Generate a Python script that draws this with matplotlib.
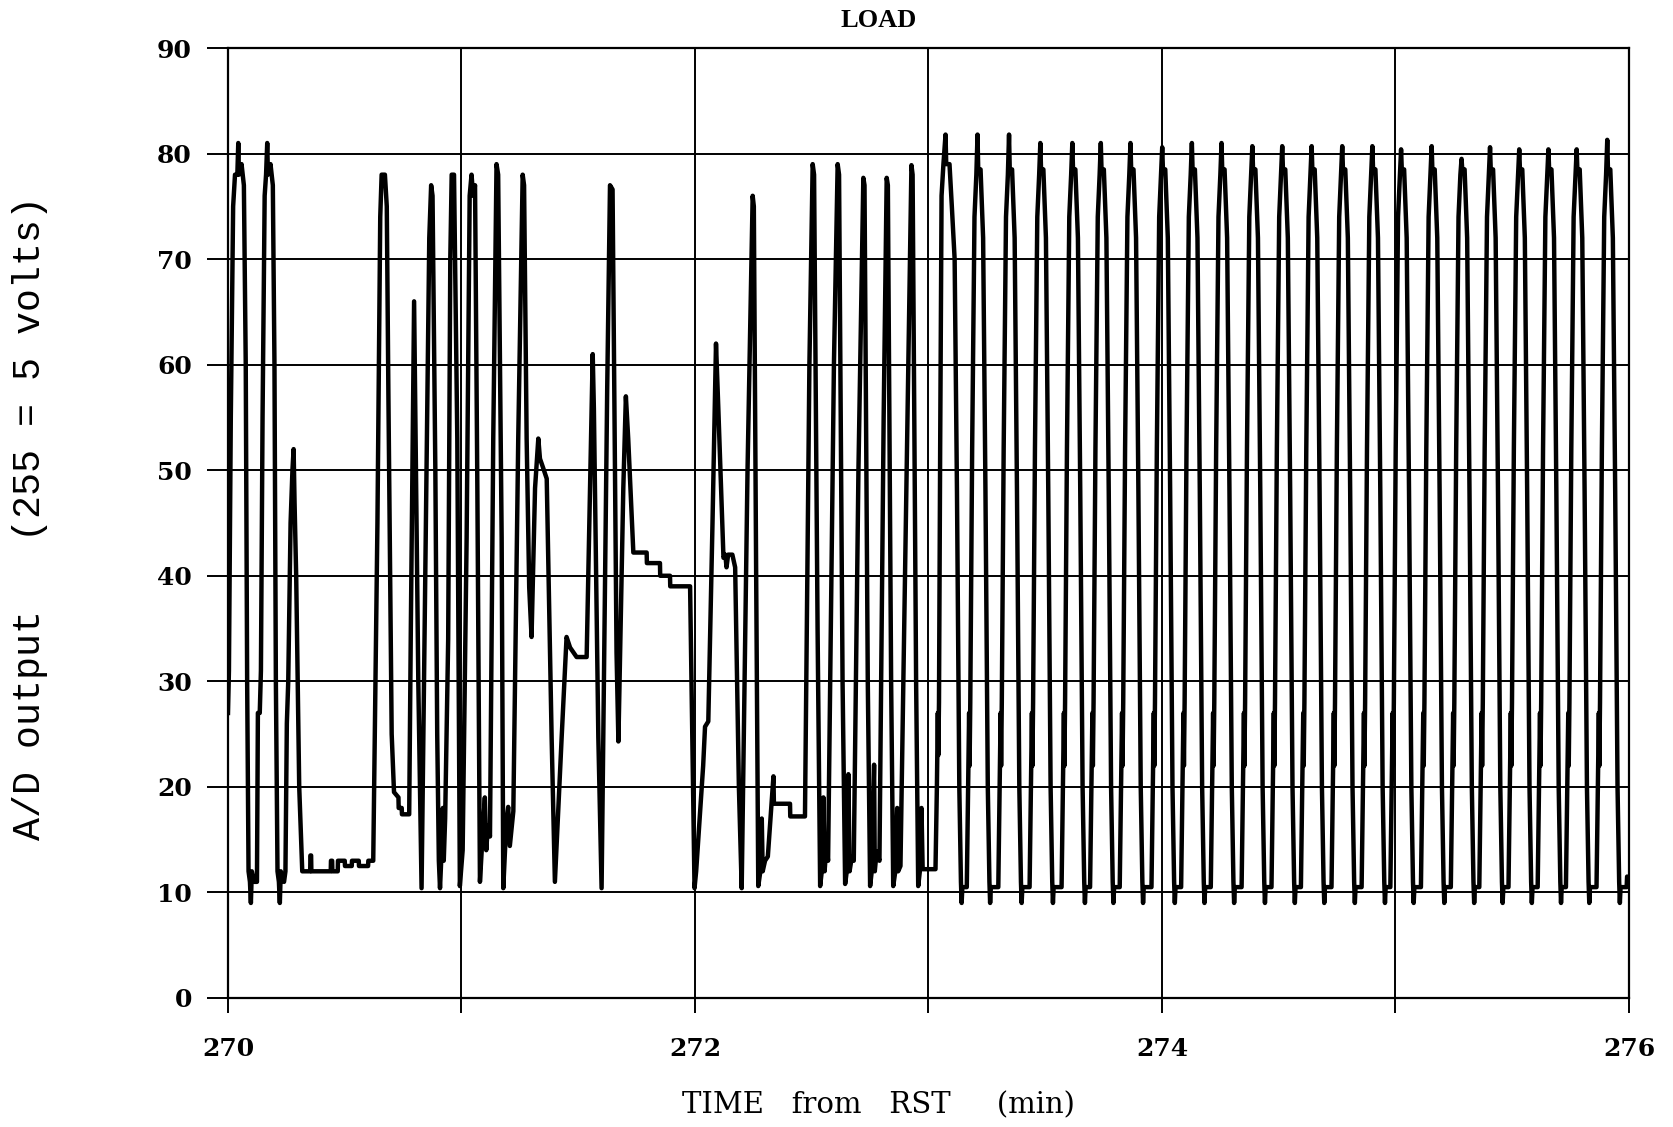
import numpy as np
import matplotlib
matplotlib.use('Agg')
import matplotlib.pyplot as plt

# A/D load trace, start-up part (irregular cycles), time in min from RST
t_settling = [
    270.000, 270.004, 270.012, 270.022, 270.030, 270.040, 270.044, 270.047, 270.058, 270.068,
    270.076, 270.082, 270.088, 270.094, 270.098, 270.102, 270.112, 270.124, 270.128, 270.136,
    270.141, 270.148, 270.157, 270.163, 270.168, 270.171, 270.182, 270.192, 270.199, 270.205,
    270.212, 270.218, 270.222, 270.226, 270.240, 270.246, 270.252, 270.258, 270.268, 270.276,
    270.281, 270.285, 270.292, 270.305, 270.318, 270.352, 270.353, 270.356, 270.357, 270.440,
    270.441, 270.446, 270.447, 270.470, 270.471, 270.500, 270.501, 270.530, 270.531, 270.560,
    270.561, 270.600, 270.601, 270.622, 270.640, 270.652, 270.658, 270.672, 270.680, 270.687,
    270.701, 270.711, 270.730, 270.731, 270.744, 270.745, 270.776, 270.783, 270.797, 270.800,
    270.815, 270.829, 270.845, 270.862, 270.870, 270.876, 270.888, 270.896, 270.903, 270.908,
    270.915, 270.920, 270.924, 270.930, 270.943, 270.952, 270.958, 270.968, 270.982, 270.993,
    271.005, 271.022, 271.035, 271.043, 271.050, 271.058, 271.068, 271.079, 271.090, 271.100,
    271.106, 271.113, 271.122, 271.136, 271.150, 271.157, 271.172, 271.179, 271.192, 271.200,
    271.207, 271.222, 271.243, 271.262, 271.268, 271.279, 271.290, 271.300, 271.315, 271.329,
    271.336, 271.350, 271.365, 271.386, 271.400, 271.429, 271.450, 271.465, 271.493, 271.536,
    271.562, 271.567, 271.586, 271.600, 271.624, 271.636, 271.647, 271.664, 271.672, 271.693,
    271.704, 271.714, 271.736, 271.793, 271.794, 271.850, 271.851, 271.893, 271.894, 271.979,
    271.998, 272.005, 272.022, 272.035, 272.043, 272.057, 272.075, 272.090, 272.100, 272.122,
    272.130, 272.135, 272.142, 272.160, 272.172, 272.188, 272.200, 272.225, 272.247, 272.252,
    272.262, 272.271, 272.280, 272.286, 272.290, 272.300, 272.312, 272.336, 272.338, 272.407,
    272.408, 272.471, 272.490, 272.504, 272.510, 272.525, 272.536, 272.543, 272.550, 272.555,
    272.563, 272.570, 272.595, 272.611, 272.617, 272.632, 272.643, 272.650, 272.657, 272.662,
    272.672, 272.680, 272.700, 272.721, 272.726, 272.740, 272.750, 272.757, 272.767, 272.770,
    272.778, 272.790, 272.808, 272.821, 272.826, 272.840, 272.849, 272.858, 272.866, 272.870,
    272.880, 272.910, 272.927, 272.932, 272.947, 272.956, 272.963, 272.970, 272.975, 273.027,
]
ad_settling = [
    27, 31, 55, 75, 78, 78, 81, 78, 79, 77,
    60, 30, 12, 11, 9, 12, 11, 11, 27, 27,
    31, 55, 76, 78, 81, 78, 79, 77, 60, 30,
    12, 11, 9, 12, 11, 12, 26, 30, 45, 50,
    52, 47, 40, 20, 12, 12, 13.5, 13.5, 12, 12,
    13, 13, 12, 12, 13, 13, 12.5, 12.5, 13, 13,
    12.5, 12.5, 13, 13, 45, 74, 78, 78, 75, 57,
    25, 19.5, 19, 18, 18, 17.4, 17.4, 35, 66, 60,
    30, 10.4, 40, 72, 77, 76, 50, 25, 13, 10.4,
    14, 18, 13, 17, 34, 70, 78, 78, 53, 10.6,
    14, 43.6, 76, 78, 76, 77, 48, 11, 15.3, 19,
    14, 16.3, 15.3, 53, 79, 78, 43.6, 10.4, 16.7, 18.1,
    14.4, 17.7, 53, 78, 77, 53, 38.9, 34.2, 48.3, 53,
    51.1, 50.2, 49.2, 24.7, 11, 24.7, 34.2, 33.2, 32.3, 32.3,
    61, 55.8, 24.7, 10.4, 57.7, 77, 76.6, 32.7, 24.3, 48.3,
    57, 53, 42.2, 42.2, 41.2, 41.2, 40, 40, 39, 39,
    10.4, 12, 17.7, 22, 25.7, 26.2, 45, 62, 55.8, 41.7,
    42, 40.8, 42, 42, 40.8, 20, 10.4, 50, 76, 75,
    40, 10.6, 12, 17, 12, 13, 13.4, 21, 18.4, 18.4,
    17.2, 17.2, 60, 79, 78, 35, 10.6, 12, 19, 12,
    14.4, 13, 60, 79, 78, 30, 10.8, 12, 21.2, 12,
    13.4, 13, 50, 77.7, 77, 30, 10.6, 12, 22.1, 12,
    13.9, 13, 55, 77.7, 77, 30, 10.6, 12, 18, 12,
    12.5, 55, 78.9, 78, 30, 10.6, 12, 18, 12.2, 12.2,
]

# steady cycling from about 273 min on, one row per cycle
t_steady = [
    273.030, 273.036, 273.040, 273.042, 273.045, 273.050, 273.056, 273.064, 273.073, 273.076, 273.090, 273.100, 273.112, 273.122, 273.132, 273.139, 273.142, 273.145,
    273.164, 273.170, 273.174, 273.176, 273.179, 273.187, 273.197, 273.205, 273.210, 273.213, 273.223, 273.234, 273.244, 273.254, 273.261, 273.264, 273.267,
    273.299, 273.305, 273.309, 273.311, 273.314, 273.322, 273.332, 273.340, 273.345, 273.348, 273.358, 273.369, 273.379, 273.389, 273.396, 273.399, 273.402,
    273.433, 273.439, 273.443, 273.445, 273.448, 273.456, 273.466, 273.474, 273.479, 273.482, 273.492, 273.503, 273.513, 273.523, 273.530, 273.533, 273.536,
    273.570, 273.576, 273.580, 273.582, 273.585, 273.593, 273.603, 273.611, 273.616, 273.619, 273.629, 273.640, 273.650, 273.660, 273.667, 273.670, 273.673,
    273.692, 273.698, 273.702, 273.704, 273.707, 273.715, 273.725, 273.733, 273.738, 273.741, 273.751, 273.762, 273.772, 273.782, 273.789, 273.792, 273.795,
    273.819, 273.825, 273.829, 273.831, 273.834, 273.842, 273.852, 273.860, 273.865, 273.868, 273.878, 273.889, 273.899, 273.909, 273.916, 273.919, 273.922,
    273.955, 273.961, 273.965, 273.967, 273.970, 273.978, 273.988, 273.996, 274.001, 274.004, 274.014, 274.025, 274.035, 274.045, 274.052, 274.055, 274.058,
    274.082, 274.088, 274.092, 274.094, 274.097, 274.105, 274.115, 274.123, 274.128, 274.131, 274.141, 274.152, 274.162, 274.172, 274.179, 274.182, 274.185,
    274.209, 274.215, 274.219, 274.221, 274.224, 274.232, 274.242, 274.250, 274.255, 274.258, 274.268, 274.279, 274.289, 274.299, 274.306, 274.309, 274.312,
    274.341, 274.347, 274.351, 274.353, 274.356, 274.364, 274.374, 274.382, 274.387, 274.390, 274.400, 274.411, 274.421, 274.431, 274.438, 274.441, 274.444,
    274.469, 274.475, 274.479, 274.481, 274.484, 274.492, 274.502, 274.510, 274.515, 274.518, 274.528, 274.539, 274.549, 274.559, 274.566, 274.569, 274.572,
    274.595, 274.601, 274.605, 274.607, 274.610, 274.618, 274.628, 274.636, 274.641, 274.644, 274.654, 274.665, 274.675, 274.685, 274.692, 274.695, 274.698,
    274.726, 274.732, 274.736, 274.738, 274.741, 274.749, 274.759, 274.767, 274.772, 274.775, 274.785, 274.796, 274.806, 274.816, 274.823, 274.826, 274.829,
    274.855, 274.861, 274.865, 274.867, 274.870, 274.878, 274.888, 274.896, 274.901, 274.904, 274.914, 274.925, 274.935, 274.945, 274.952, 274.955, 274.958,
    274.978, 274.984, 274.988, 274.990, 274.993, 275.001, 275.011, 275.019, 275.024, 275.027, 275.037, 275.048, 275.058, 275.068, 275.075, 275.078, 275.081,
    275.109, 275.115, 275.119, 275.121, 275.124, 275.132, 275.142, 275.150, 275.155, 275.158, 275.168, 275.179, 275.189, 275.199, 275.206, 275.209, 275.212,
    275.237, 275.243, 275.247, 275.249, 275.252, 275.260, 275.270, 275.278, 275.283, 275.286, 275.296, 275.307, 275.317, 275.327, 275.334, 275.337, 275.340,
    275.359, 275.365, 275.369, 275.371, 275.374, 275.382, 275.392, 275.400, 275.405, 275.408, 275.418, 275.429, 275.439, 275.449, 275.456, 275.459, 275.462,
    275.484, 275.490, 275.494, 275.496, 275.499, 275.507, 275.517, 275.525, 275.530, 275.533, 275.543, 275.554, 275.564, 275.574, 275.581, 275.584, 275.587,
    275.609, 275.615, 275.619, 275.621, 275.624, 275.632, 275.642, 275.650, 275.655, 275.658, 275.668, 275.679, 275.689, 275.699, 275.706, 275.709, 275.712,
    275.730, 275.736, 275.740, 275.742, 275.745, 275.753, 275.763, 275.771, 275.776, 275.779, 275.789, 275.800, 275.810, 275.820, 275.827, 275.830, 275.833,
    275.861, 275.867, 275.871, 275.873, 275.876, 275.884, 275.894, 275.902, 275.907, 275.910, 275.920, 275.931, 275.941, 275.951, 275.958, 275.961, 275.964,
    275.990, 275.992, 276.000,
]
ad_steady = [
    12.2, 20, 27, 23, 28, 52, 76, 79, 81.8, 79, 79, 75, 70, 48, 20, 11, 9, 10.5,
    10.5, 20, 27, 22, 28, 52, 74, 78, 81.8, 78.5, 78.5, 72, 48, 20, 11, 9, 10.5,
    10.5, 20, 27, 22, 28, 52, 74, 78, 81.8, 78.5, 78.5, 72, 48, 20, 11, 9, 10.5,
    10.5, 20, 27, 22, 28, 52, 74, 78, 81.0, 78.5, 78.5, 72, 48, 20, 11, 9, 10.5,
    10.5, 20, 27, 22, 28, 52, 74, 78, 81.0, 78.5, 78.5, 72, 48, 20, 11, 9, 10.5,
    10.5, 20, 27, 22, 28, 52, 74, 78, 81.0, 78.5, 78.5, 72, 48, 20, 11, 9, 10.5,
    10.5, 20, 27, 22, 28, 52, 74, 78, 81.0, 78.5, 78.5, 72, 48, 20, 11, 9, 10.5,
    10.5, 20, 27, 22, 28, 52, 74, 78, 80.6, 78.5, 78.5, 72, 48, 20, 11, 9, 10.5,
    10.5, 20, 27, 22, 28, 52, 74, 78, 81.0, 78.5, 78.5, 72, 48, 20, 11, 9, 10.5,
    10.5, 20, 27, 22, 28, 52, 74, 78, 81.0, 78.5, 78.5, 72, 48, 20, 11, 9, 10.5,
    10.5, 20, 27, 22, 28, 52, 74, 78, 80.7, 78.5, 78.5, 72, 48, 20, 11, 9, 10.5,
    10.5, 20, 27, 22, 28, 52, 74, 78, 80.7, 78.5, 78.5, 72, 48, 20, 11, 9, 10.5,
    10.5, 20, 27, 22, 28, 52, 74, 78, 80.7, 78.5, 78.5, 72, 48, 20, 11, 9, 10.5,
    10.5, 20, 27, 22, 28, 52, 74, 78, 80.7, 78.5, 78.5, 72, 48, 20, 11, 9, 10.5,
    10.5, 20, 27, 22, 28, 52, 74, 78, 80.7, 78.5, 78.5, 72, 48, 20, 11, 9, 10.5,
    10.5, 20, 27, 22, 28, 52, 74, 78, 80.4, 78.5, 78.5, 72, 48, 20, 11, 9, 10.5,
    10.5, 20, 27, 22, 28, 52, 74, 78, 80.7, 78.5, 78.5, 72, 48, 20, 11, 9, 10.5,
    10.5, 20, 27, 22, 28, 52, 74, 78, 79.5, 78.5, 78.5, 72, 48, 20, 11, 9, 10.5,
    10.5, 20, 27, 22, 28, 52, 74, 78, 80.6, 78.5, 78.5, 72, 48, 20, 11, 9, 10.5,
    10.5, 20, 27, 22, 28, 52, 74, 78, 80.4, 78.5, 78.5, 72, 48, 20, 11, 9, 10.5,
    10.5, 20, 27, 22, 28, 52, 74, 78, 80.4, 78.5, 78.5, 72, 48, 20, 11, 9, 10.5,
    10.5, 20, 27, 22, 28, 52, 74, 78, 80.4, 78.5, 78.5, 72, 48, 20, 11, 9, 10.5,
    10.5, 20, 27, 22, 28, 52, 74, 78, 81.3, 78.5, 78.5, 72, 48, 20, 11, 9, 10.5,
    10.5, 11.5, 11,
]

x_ticks = [270, 271, 272, 273, 274, 275, 276]
x_tick_labels = ['270', '', '272', '', '274', '', '276']
y_ticks = [0, 10, 20, 30, 40, 50, 60, 70, 80, 90]

t_all = np.concatenate([t_settling, t_steady])
ad_all = np.concatenate([ad_settling, ad_steady])

fig = plt.figure(figsize=(16.74, 11.27), dpi=100)
ax = fig.add_axes([0.1362, 0.1145, 0.8369, 0.8429])

ax.plot(t_all, ad_all, color='black', lw=3.2, solid_joinstyle='round', zorder=3)

ax.set_xlim(270, 276)
ax.set_ylim(0, 90)
ax.set_xticks(x_ticks)
ax.set_xticklabels(x_tick_labels)
ax.set_yticks(y_ticks)
ax.grid(True, color='black', lw=1.4)
for spine in ax.spines.values():
    spine.set_linewidth(1.6)
ax.tick_params(axis='y', length=15, width=1.4, pad=11, labelsize=18)
ax.tick_params(axis='x', length=11, width=1.4, pad=17, labelsize=18)
for lab in ax.get_xticklabels() + ax.get_yticklabels():
    lab.set_fontfamily('DejaVu Serif')
    lab.set_fontweight('bold')

fig.text(0.525, 0.982, 'LOAD', family='Liberation Serif', weight='bold',
         size=19, ha='center', va='center')
fig.text(0.525, 0.019, 'TIME   from   RST     (min)', family='DejaVu Serif',
         size=21, ha='center', va='center')
fig.text(0.018, 0.54, 'A/D output   (255 = 5 volts)', family='Liberation Mono',
         size=27.5, rotation=90, ha='center', va='center')

fig.savefig('out.png', dpi=100)
